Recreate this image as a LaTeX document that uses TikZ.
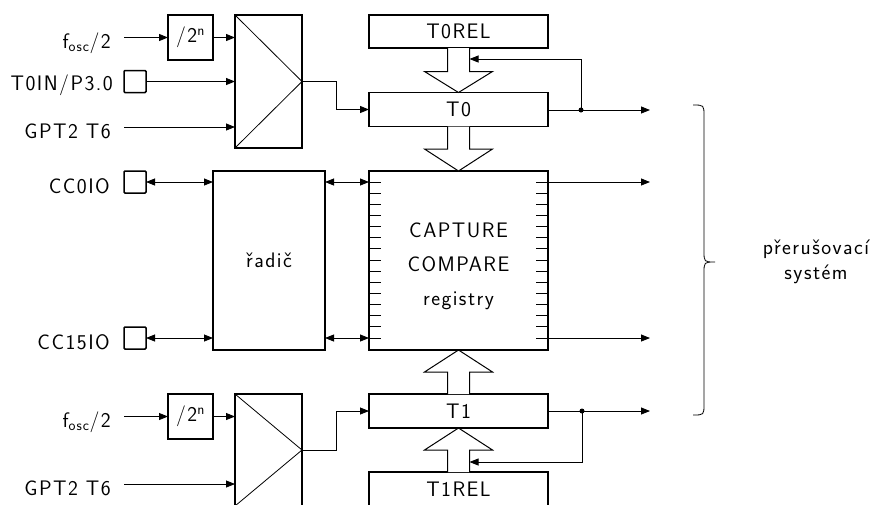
\documentclass[tikz,border=0pt]{standalone}
\usepackage{fontspec}
\setsansfont{Latin Modern Sans}[LetterSpace=7]
\usetikzlibrary{arrows.meta,calc}
\begin{document}
\begin{tikzpicture}[x=1pt,y=-1pt,
  every node/.style={font=\sffamily\fontsize{21}{25}\selectfont},
  box/.style={draw,line width=1.5pt,inner sep=0pt,outer sep=0pt,fill=white},
  pin/.style={draw,line width=1.5pt,minimum size=22pt,inner sep=0pt,outer sep=0pt,rounded corners=1pt},
  lbl/.style={anchor=base east,inner sep=0pt},
  wire/.style={line width=0.8pt},
  arr/.style={line width=0.8pt,-{Triangle[length=9pt,width=7pt]}},
  darr/.style={line width=0.8pt,{Triangle[length=9pt,width=7pt]}-{Triangle[length=9pt,width=7pt]}},
  hollow/.style={line width=1pt,fill=white,line join=miter},
  dot/.style={circle,fill,inner sep=0pt,minimum size=5pt}]
\path[use as bounding box,clip] (0,0) rectangle (875,504);

% ---------- top timer T0 ----------
\node[box,minimum width=45pt,minimum height=45pt] (div0) at (190.5,37.5) {/2\textsuperscript{n}};
\node[box,minimum width=67pt,minimum height=133pt] (mux0) at (268.5,81.5) {};
\draw[wire] (mux0.north west) -- (mux0.east) -- (mux0.south west);
\node[lbl] (fosc0) at (111,48) {f\textsubscript{osc}/2};
\node[pin] (p0) at (135,81.5) {};
\node[lbl] (t0in) at (113,90) {T0IN/P3.0};
\node[lbl] (gpt0) at (111,138) {GPT2 T6};
\coordinate (fa0) at (124,37.5);
\coordinate (ga0) at (124,127);
\draw[arr] (fa0) -- (div0.west);
\draw[arr] (div0.east) -- (div0.east -| mux0.west);
\draw[arr] (p0.east) -- (p0.east -| mux0.west);
\draw[arr] (ga0) -- (ga0 -| mux0.west);

\node[box,minimum width=179pt,minimum height=33pt] (t0rel) at (458.5,31.5) {T0REL};
\node[box,minimum width=179pt,minimum height=34pt] (t0) at (458.5,109.5) {T0};
\draw[arr] (mux0.east) -- ++(34,0) |- (t0.west);

% ---------- capture / compare ----------
\node[box,minimum width=179pt,minimum height=179pt] (cap) at (458.5,260.5) {};
\node[align=center,inner sep=0pt,font=\sffamily\fontsize{21}{34}\selectfont] (captxt) at (458.5,266.5) {CAPTURE\\COMPARE\\registry};
\foreach \i in {0,...,14}{
  \draw[wire] ($(cap.north west)+(0,11+\i*11.14)$) -- ++(12,0);
  \draw[wire] ($(cap.north east)+(0,11+\i*11.14)$) -- ++(-12,0);
}
\node[box,minimum width=112pt,minimum height=179pt] (rad) at (269,260.5) {řadič};
\node[pin] (pc0) at (135,182) {};
\node[pin] (pc15) at (135,338) {};
\node[lbl] (cc0) at (110,193) {CC0IO};
\node[lbl] (cc15) at (110,349) {CC15IO};
\draw[darr] (pc0.east) -- (pc0.east -| rad.west);
\draw[darr] (pc15.east) -- (pc15.east -| rad.west);
\draw[darr] (rad.east |- pc0.east) -- (cap.west |- pc0.east);
\draw[darr] (rad.east |- pc15.east) -- (cap.west |- pc15.east);
\coordinate (o1) at (650,182);
\coordinate (o2) at (650,338);
\draw[arr] (cap.east |- o1) -- (o1);
\draw[arr] (cap.east |- o2) -- (o2);

% hollow arrows T0REL -> T0 -> CAP
\draw[hollow] ($(t0rel.south)+(-11,0)$) |- ($(t0.north)+(-34,-21)$) -- (t0.north) -- ($(t0.north)+(34,-21)$) -| ($(t0rel.south)+(11,0)$);
\draw[hollow] ($(t0.south)+(-11,0)$) |- ($(cap.north)+(-34,-22)$) -- (cap.north) -- ($(cap.north)+(34,-22)$) -| ($(t0.south)+(11,0)$);

% T0 output + feedback
\coordinate (ot0) at (650,110);
\node[dot] (d0) at (581,110) {};
\draw[arr] (t0.east |- ot0) -- (ot0);
\draw[arr] (d0.center) |- ($(t0rel.south)+(11,11)$);

% ---------- bottom timer T1 ----------
\node[box,minimum width=179pt,minimum height=34pt] (t1) at (458.5,411) {T1};
\node[box,minimum width=179pt,minimum height=34pt] (t1rel) at (458.5,489) {T1REL};
\draw[hollow] ($(t1.north)+(-11,0)$) |- ($(cap.south)+(-34,22)$) -- (cap.south) -- ($(cap.south)+(34,22)$) -| ($(t1.north)+(11,0)$);
\draw[hollow] ($(t1rel.north)+(-11,0)$) |- ($(t1.south)+(-34,22)$) -- (t1.south) -- ($(t1.south)+(34,22)$) -| ($(t1rel.north)+(11,0)$);
\coordinate (ot1) at (650,411);
\node[dot] (d1) at (582,411) {};
\draw[arr] (t1.east |- ot1) -- (ot1);
\draw[arr] (d1.center) |- ($(t1rel.north)+(11,-10)$);

\node[box,minimum width=45pt,minimum height=45pt] (div1) at (190.5,416.5) {/2\textsuperscript{n}};
\node[box,minimum width=67pt,minimum height=112pt] (mux1) at (268.5,450) {};
\draw[wire] (mux1.north west) -- (mux1.east) -- (mux1.south west);
\node[lbl] (fosc1) at (111,427) {f\textsubscript{osc}/2};
\node[lbl] (gpt1) at (111,495) {GPT2 T6};
\coordinate (fa1) at (124,416.5);
\coordinate (ga1) at (124,484);
\draw[arr] (fa1) -- (div1.west);
\draw[arr] (div1.east) -- (div1.east -| mux1.west);
\draw[arr] (ga1) -- (ga1 -| mux1.west);
\draw[arr] (mux1.east) -- ++(34,0) |- (t1.west);

% ---------- brace ----------
\draw[line width=0.8pt] (693,105) .. controls (704,105) .. (704,116) -- (704,251)
  .. controls (704,262) .. (715,262) .. controls (704,262) .. (704,273) -- (704,404)
  .. controls (704,415) .. (693,415);
\node[align=center,inner sep=0pt] (irq) at (816,262) {přerušovací\\systém};
\end{tikzpicture}
\end{document}
